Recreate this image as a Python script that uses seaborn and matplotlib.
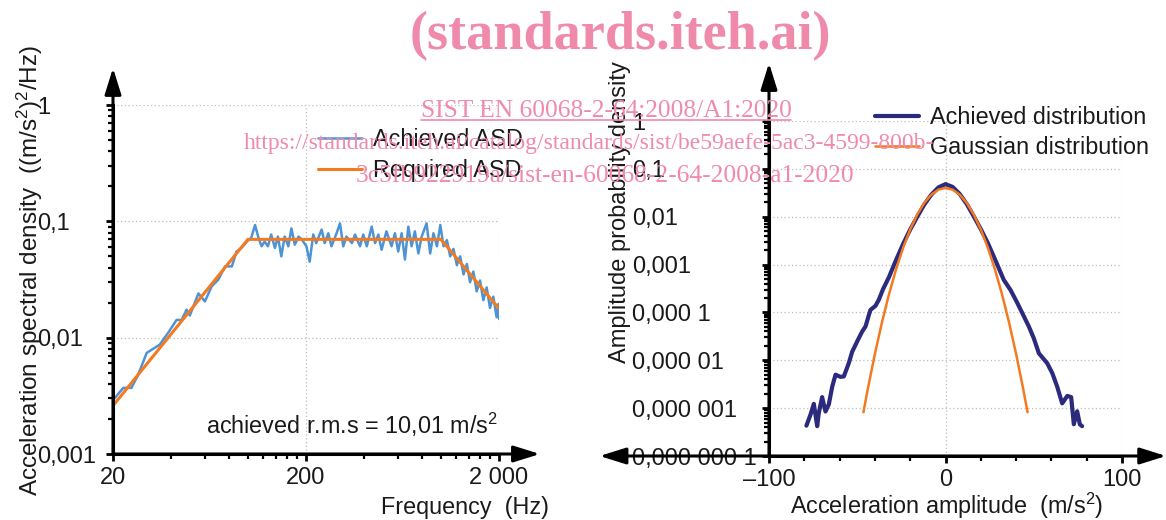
import numpy as np
import pandas as pd
import matplotlib
matplotlib.use('Agg')
import matplotlib.pyplot as plt
from matplotlib.ticker import FixedLocator, FixedFormatter, NullFormatter
from matplotlib.lines import Line2D
import seaborn as sns

# ---- left panel: acceleration spectral density ----
asd_freq = [20, 22.6, 24.9, 27.0, 29.9, 34.9, 38.6, 42.7, 45.3, 48.1, 50.0, 55.4, 59.9,
            64.9, 70.2, 73.1, 76.1, 82.6, 87.3, 92.5, 100.5, 104, 108.9, 113.5, 117.8,
            122, 127, 132, 138, 143, 149, 155, 162, 168, 175, 183, 190, 201, 209, 218,
            226, 241, 250, 261, 271, 288, 300, 312, 324, 346, 359, 381, 396, 413, 438,
            456, 474, 493, 522, 555, 578, 601, 626, 651, 678, 705, 733, 764, 795, 843,
            880, 915, 954, 993, 1032, 1074, 1117, 1162, 1210, 1258, 1310, 1363, 1416,
            1473, 1533, 1594, 1659, 1727, 1796, 1868, 1944, 1990, 2000]
asd_achieved = [0.0029, 0.0037, 0.0037, 0.0048, 0.0074, 0.0087, 0.011, 0.0142, 0.0142,
                0.0174, 0.0155, 0.024, 0.0205, 0.0276, 0.0315, 0.0359, 0.041, 0.041,
                0.055, 0.059, 0.069, 0.072, 0.093, 0.072, 0.061, 0.067, 0.061, 0.077,
                0.059, 0.074, 0.050, 0.074, 0.061, 0.087, 0.063, 0.074, 0.070, 0.061,
                0.045, 0.077, 0.065, 0.085, 0.065, 0.079, 0.061, 0.079, 0.096, 0.061,
                0.074, 0.065, 0.077, 0.061, 0.077, 0.061, 0.090, 0.065, 0.077, 0.057,
                0.082, 0.061, 0.079, 0.055, 0.079, 0.047, 0.090, 0.061, 0.082, 0.053,
                0.074, 0.096, 0.053, 0.079, 0.061, 0.093, 0.061, 0.069, 0.050, 0.058,
                0.042, 0.050, 0.035, 0.043, 0.030, 0.037, 0.025, 0.031, 0.021, 0.027,
                0.018, 0.0225, 0.015, 0.0195, 0.0145]
req_freq = [20, 100, 1000, 2000]
req_asd = [0.0026, 0.07, 0.07, 0.0178]

# ---- right panel: amplitude probability density ----
dist_x = [-78.8, -76.5, -74.6, -72.7, -71.8, -69.9, -68.0, -66.1, -64.2, -62.3, -59.5,
          -57.6, -54.8, -52.9, -50.0, -47.2, -45.3, -43.4, -42.5, -39.7, -37.8, -35.5,
          -32, -28, -24, -20, -16, -12, -8, -4, 0, 4, 8, 12, 16, 20, 24, 28, 33.0, 36.8,
          40.6, 43.5, 47.2, 50.0, 52.9, 57.6, 60.5, 63.3, 66.1, 69.0, 71.2, 72.7, 74.6,
          76.1, 77.4]
dist_achieved = [4.3e-7, 7.3e-7, 1.23e-6, 4.2e-7, 7.9e-7, 1.7e-6, 8.5e-7, 1.2e-6, 2.8e-6,
                 5.0e-6, 4.5e-6, 4.6e-6, 8.7e-6, 1.5e-5, 2.5e-5, 4.0e-5, 5.1e-5, 8.9e-5,
                 1.13e-4, 1.37e-4, 1.83e-4, 3.0e-4, 5.5e-4, 1.25e-3, 2.7e-3, 5.4e-3,
                 0.0100, 0.0180, 0.029, 0.041, 0.048, 0.042, 0.030, 0.0185, 0.0102,
                 5.5e-3, 2.8e-3, 1.3e-3, 4.8e-4, 2.96e-4, 1.6e-4, 9.7e-5, 5.1e-5, 2.9e-5,
                 1.4e-5, 8.7e-6, 5.4e-6, 2.8e-6, 1.26e-6, 1.8e-6, 1.7e-6, 4.6e-7, 8.6e-7,
                 4.6e-7, 4.2e-7]
gauss_x = [-46.5, -44, -40, -36, -32, -28, -24, -20, -16, -12, -8, -4, 0,
           4, 8, 12, 16, 20, 24, 28, 32, 36, 40, 44, 46.5]
gauss_pdf = [8.2e-7, 2.54e-6, 1.36e-5, 6.19e-5, 2.41e-4, 7.98e-4, 2.25e-3, 5.42e-3,
             1.11e-2, 1.95e-2, 2.90e-2, 3.68e-2, 3.99e-2, 3.68e-2, 2.90e-2, 1.95e-2,
             1.11e-2, 5.42e-3, 2.25e-3, 7.98e-4, 2.41e-4, 6.19e-5, 1.36e-5, 2.54e-6, 8.2e-7]

asd_ticks = [0.001, 0.01, 0.1, 1]
asd_ticklabels = ['0,001', '0,01', '0,1', '1']
freq_ticks = [20, 200, 2000]
freq_ticklabels = ['20', '200', '2 000']
pdf_ticks = [1e-7, 1e-6, 1e-5, 1e-4, 1e-3, 1e-2, 1e-1, 1]
pdf_ticklabels = ['0,000 000 1', '0,000 001', '0,000 01', '0,000 1',
                  '0,001', '0,01', '0,1', '1']
amp_ticks = [-100, 0, 100]
amp_ticklabels = ['\u2013100', '0', '100']

BLUE = '#4d93d6'
ORANGE = '#f47a20'
NAVY = '#2b2a7c'
PINK = '#ef8aab'
INK = '#1a1a1a'
FS = 16.8

sns.set_style('ticks')
plt.rcParams['font.family'] = ['Liberation Sans', 'DejaVu Sans']
plt.rcParams['mathtext.default'] = 'regular'

W, H = 1166, 520
fig = plt.figure(figsize=(W / 100, H / 100), dpi=100)
ax1 = fig.add_axes([113 / W, 66 / H, 386 / W, 349 / H])
ax2 = fig.add_axes([769 / W, 64 / H, 353 / W, 335 / H])


def axis_arrow(ax, start, end, style):
    ax.annotate('', xy=end, xytext=start, xycoords='axes fraction',
                textcoords='axes fraction', annotation_clip=False,
                arrowprops=dict(arrowstyle=style, color='black', lw=2.2,
                                shrinkA=0, shrinkB=0, mutation_scale=20))


def style_axes(ax):
    for s in ['top', 'right']:
        ax.spines[s].set_visible(False)
    for s in ['left', 'bottom']:
        ax.spines[s].set_linewidth(2.2)
        ax.spines[s].set_color('black')
    ax.grid(True, which='major', linestyle=(0, (1, 2)), color='#bdbdbd', linewidth=0.9)
    ax.tick_params(which='major', direction='out', length=5, width=2, labelsize=17,
                   labelcolor=INK, color='black')
    ax.tick_params(which='minor', direction='out', length=3.5, width=1.6, color='black')
    ax.tick_params(axis='x', which='major', pad=4)
    ax.set_xlabel('')
    ax.set_ylabel('')


# left panel
sns.lineplot(x=asd_freq, y=asd_achieved, ax=ax1, color=BLUE, linewidth=1.8,
             estimator=None, sort=False, label='Achieved ASD')
sns.lineplot(x=req_freq, y=req_asd, ax=ax1, color=ORANGE, linewidth=2.2,
             estimator=None, sort=False, label='Required ASD')
ax1.set_xscale('log')
ax1.set_yscale('log')
ax1.set_xlim(20, 2000)
ax1.set_ylim(0.001, 1)
ax1.xaxis.set_major_locator(FixedLocator(freq_ticks))
ax1.xaxis.set_major_formatter(FixedFormatter(freq_ticklabels))
ax1.xaxis.set_minor_locator(FixedLocator([20 * k for k in range(2, 10)] +
                                         [200 * k for k in range(2, 10)]))
ax1.xaxis.set_minor_formatter(NullFormatter())
ax1.yaxis.set_major_locator(FixedLocator(asd_ticks))
ax1.yaxis.set_major_formatter(FixedFormatter(asd_ticklabels))
ax1.yaxis.set_minor_locator(FixedLocator([m * 10.0 ** e for e in range(-3, 0)
                                          for m in range(2, 10)]))
ax1.yaxis.set_minor_formatter(NullFormatter())
style_axes(ax1)
ax1.tick_params(axis='y', which='major', pad=49.5)
plt.setp(ax1.get_yticklabels(), ha='left')
axis_arrow(ax1, (0, 0), (0, 1.106), '-|>,head_length=0.8,head_width=0.25')
axis_arrow(ax1, (0, 0), (1.106, 0), '-|>,head_length=0.8,head_width=0.25')
ax1.legend(loc='upper left', bbox_to_anchor=(0.531, 0.935), frameon=False, fontsize=FS,
           handlelength=1.9, handletextpad=0.45, labelspacing=0.35, borderpad=0,
           borderaxespad=0, labelcolor=INK)
ax1.text(0.997, 0.083, 'achieved r.m.s = 10,01 m/s$^2$', transform=ax1.transAxes,
         ha='right', va='center', fontsize=FS, color=INK)
ax1.text(0.912, -0.152, 'Frequency  (Hz)', transform=ax1.transAxes,
         ha='center', va='center', fontsize=FS, color=INK)
ax1.text(-0.215, 0.527, 'Acceleration spectral density  ((m/s$^2$)$^2$/Hz)',
         transform=ax1.transAxes, rotation=90, ha='center', va='center',
         fontsize=17.5, color=INK)

# right panel
sns.lineplot(x=dist_x, y=dist_achieved, ax=ax2, color=NAVY, linewidth=3,
             estimator=None, sort=False, label='Achieved distribution')
sns.lineplot(x=gauss_x, y=gauss_pdf, ax=ax2, color=ORANGE, linewidth=1.8,
             estimator=None, sort=False, label='Gaussian distribution')
ax2.set_yscale('log')
ax2.set_xlim(-100, 100)
ax2.set_ylim(1e-7, 1)
ax2.xaxis.set_major_locator(FixedLocator(amp_ticks))
ax2.xaxis.set_major_formatter(FixedFormatter(amp_ticklabels))
ax2.xaxis.set_minor_locator(FixedLocator([-80, -60, -40, -20, 20, 40, 60, 80]))
ax2.yaxis.set_major_locator(FixedLocator(pdf_ticks))
ax2.yaxis.set_major_formatter(FixedFormatter(pdf_ticklabels))
ax2.yaxis.set_minor_locator(FixedLocator([m * 10.0 ** e for e in range(-7, 0)
                                          for m in range(2, 10)]))
ax2.yaxis.set_minor_formatter(NullFormatter())
style_axes(ax2)
ax2.tick_params(axis='y', which='major', pad=93.6)
plt.setp(ax2.get_yticklabels(), ha='left')
axis_arrow(ax2, (0, 0), (0, 1.173), '-|>,head_length=0.8,head_width=0.25')
axis_arrow(ax2, (-0.48, 0), (1.125, 0), '<|-|>,head_length=0.8,head_width=0.25')
ax2.legend(loc='upper left', bbox_to_anchor=(0.30, 1.044), frameon=False, fontsize=FS,
           handlelength=1.9, handletextpad=0.45, labelspacing=0.3, borderpad=0,
           borderaxespad=0, labelcolor=INK)
ax2.text(0.504, -0.148, 'Acceleration amplitude  (m/s$^2$)', transform=ax2.transAxes,
         ha='center', va='center', fontsize=FS, color=INK)
ax2.text(-0.422, 0.728, 'Amplitude probability density', transform=ax2.transAxes,
         rotation=90, ha='center', va='center', fontsize=17, color=INK)

# watermark
serif = ['Liberation Serif', 'DejaVu Serif']
fig.text(620 / W, 1 - 36 / H, '(standards.iteh.ai)', family=serif, weight='bold',
         fontsize=39, color=PINK, ha='center', va='center')
sist = fig.text(606 / W, 1 - 111 / H, 'SIST EN 60068-2-64:2008/A1:2020', family=serif,
                fontsize=18.3, color=PINK, ha='center', va='center')
fig.text(589 / W, 1 - 143 / H,
         'https://standards.iteh.ai/catalog/standards/sist/be59aefe-5ac3-4599-800b-',
         family=serif, fontsize=17, color=PINK, ha='center', va='center')
fig.text(605 / W, 1 - 176 / H, '3c5fb922919a/sist-en-60068-2-64-2008-a1-2020',
         family=serif, fontsize=18.4, color=PINK, ha='center', va='center')

fig.canvas.draw()
bb = sist.get_window_extent()
fig.add_artist(Line2D([bb.x0, bb.x1], [bb.y0 + 2, bb.y0 + 2], transform=None,
                      color=PINK, linewidth=1.2))

fig.savefig('out.png', dpi=100)
